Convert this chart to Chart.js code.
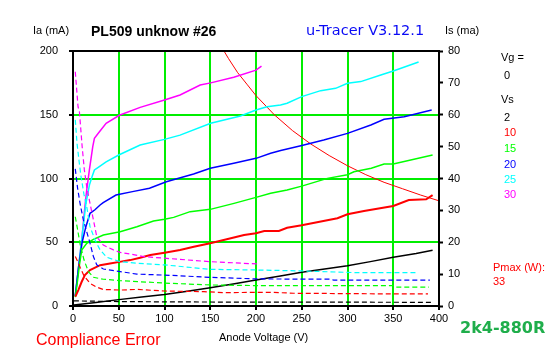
<!DOCTYPE html>
<html>
<head>
<meta charset="utf-8">
<script src="https://cdn.jsdelivr.net/npm/chart.js@4"></script>
<style>
html,body{margin:0;padding:0;background:#fff;}
canvas{display:block;}
</style>
</head>
<body>
<canvas id="c" width="547" height="357"></canvas>
<script>
// ---- tick labels ----
const xTicks = [0, 50, 100, 150, 200, 250, 300, 350, 400];
const iaTicks = [0, 50, 100, 150, 200];
const isTicks = [0, 10, 20, 30, 40, 50, 60, 70, 80];
const screenVoltages = ['2', '10', '15', '20', '25', '30'];
const seriesColors = ['#000000', '#ff0000', '#00ff00', '#0000ff', '#00ffff', '#ff00ff'];

// ---- Vs = 2 ----
const va_vs2 = [1, 25, 50, 75, 100, 125, 150, 175, 200, 225, 250, 275, 300, 325, 350, 375, 393];
const ia_vs2 = [0.8, 2.8, 5.0, 7.0, 9.0, 11.6, 14.3, 17.3, 20.4, 23.3, 26.4, 29.0, 31.6, 34.8, 38.2, 41.2, 43.7];
const vsc_vs2 = [1, 50, 100, 200, 300, 392];
const is_vs2 = [1.6, 1.4, 1.3, 1.2, 1.2, 1.15];

// ---- Vs = 10 ----
const va_vs10 = [2.6, 5.8, 9.5, 13, 18.6, 29.6, 40.5, 50.8, 62.5, 73.4, 84.5, 100, 117, 132, 150, 168, 187, 200, 209, 225, 234, 250, 289, 300, 318, 350, 367, 386, 393];
const ia_vs10 = [7.3, 12.5, 19, 24.3, 28.2, 32, 33.3, 34.6, 36, 37.9, 40, 41.8, 43.9, 46.5, 49.2, 52.3, 55.7, 57, 58.8, 58.8, 61.4, 63.3, 68.8, 71.9, 74.5, 78.4, 83.1, 83.7, 87];
const vsc_vs10 = [2.5, 5, 8, 12, 18.6, 26, 33, 51.5, 70, 100, 143, 165, 216, 241, 344, 388];
const is_vs10 = [15.5, 14, 12, 9.5, 7.1, 5.9, 5.2, 5.0, 5.2, 4.7, 4.5, 4.2, 4.3, 4.0, 3.8, 3.8];

// ---- Vs = 15 ----
const va_vs15 = [2.5, 5, 7, 9.5, 15, 22.3, 33.2, 51.5, 69.8, 88, 100, 110, 128, 150, 176, 200, 216, 234, 250, 278, 300, 307, 326, 340, 350, 393];
const ia_vs15 = [7, 20, 32, 43.9, 49.2, 52.3, 55.7, 58.3, 62.2, 66.7, 68, 69.5, 74, 75.8, 80.5, 85.2, 88.5, 91, 94, 100.1, 103, 105.3, 108, 111.4, 111.4, 118.4];
const vsc_vs15 = [2.5, 5, 8, 12, 16.8, 22.3, 33.2, 51.5, 100, 150, 200, 350, 352, 389];
const is_vs15 = [28, 24, 19, 14.5, 10.8, 9, 8.4, 7.95, 7.2, 6.6, 6.4, 6.4, 5.9, 5.9];

// ---- Vs = 20 ----
const va_vs20 = [2.5, 6, 10, 14, 18.6, 24, 29.6, 33, 47, 65, 83.6, 102, 131.8, 150, 175.7, 200, 216, 227, 249, 274, 300, 325.5, 340, 362, 392];
const ia_vs20 = [8, 30, 50, 62, 72.7, 75.5, 79.2, 81, 87, 89.7, 92.3, 97.5, 103.5, 108, 112, 115.8, 119.8, 122, 125.7, 130.2, 135.4, 142, 146.4, 148.5, 153.7];
const vsc_vs20 = [2.5, 5, 7.7, 11.3, 18.6, 22.3, 26, 33.2, 51.5, 69.8, 100, 150, 200, 282, 285, 390];
const is_vs20 = [43, 37, 32.2, 27, 19.7, 15.5, 12.9, 11.6, 10.8, 10, 9.7, 9, 8.5, 8.4, 8.1, 8.1];

// ---- Vs = 25 ----
const va_vs25 = [2.5, 6, 10, 14, 18, 20.8, 23.4, 26, 36.2, 50, 73.4, 100, 117, 150.5, 183, 200, 212, 226.8, 234, 250, 270.7, 287, 300, 314.5, 336.4, 350, 377.7];
const ia_vs25 = [8, 30, 55, 80, 95, 101.4, 106.7, 108, 113, 118.4, 126.3, 130.7, 134, 143.3, 149, 153.7, 156.3, 157.6, 159, 164.2, 168.9, 170.7, 174.7, 176, 181.2, 184.3, 191.4];
const vsc_vs25 = [2.5, 4.4, 6.9, 8.8, 12, 15, 18.6, 24.1, 29.6, 36.9, 51.5, 69.8, 100, 150, 200, 250, 305, 376];
const is_vs25 = [58.4, 51, 44.8, 40.6, 35, 31.2, 24.9, 20.7, 17.6, 15.3, 13.9, 13.4, 12.9, 11.5, 11.3, 11, 10.5, 10.5];

// ---- Vs = 30 ----
const va_vs30 = [2.5, 6, 10, 13, 15, 17.9, 21.6, 23.4, 28.9, 36.2, 50.7, 73.4, 100, 117, 139, 150.5, 175.7, 200, 206];
const ia_vs30 = [8, 30, 55, 78, 91, 106.7, 125, 131.5, 136.7, 143.3, 149.6, 155.8, 161.6, 165.5, 173.3, 175, 179.4, 185, 188.2];
const vsc_vs30 = [2.5, 5.5, 7, 10, 12.4, 15, 18.6, 22.3, 26, 33.2, 44.2, 51.5, 62.5, 77, 100, 150, 201];
const is_vs30 = [73.5, 62.5, 61, 50, 42.7, 37.4, 32.2, 27, 21.7, 19.1, 17.6, 16.8, 16.3, 15.5, 15, 13.9, 13.2];

// ---- Pmax = 33 W hyperbola ----
const va_pmax = [165, 170, 180, 190, 200, 220, 240, 260, 280, 300, 320, 340, 360, 380, 400];
const ia_pmax = [200, 194, 183, 174, 165, 150, 137.5, 127, 118, 110, 103, 97, 92, 87, 82.5];

const anodeSets = [[va_vs2, ia_vs2], [va_vs10, ia_vs10], [va_vs15, ia_vs15], [va_vs20, ia_vs20], [va_vs25, ia_vs25], [va_vs30, ia_vs30]];
const screenSets = [[vsc_vs2, is_vs2], [vsc_vs10, is_vs10], [vsc_vs15, is_vs15], [vsc_vs20, is_vs20], [vsc_vs25, is_vs25], [vsc_vs30, is_vs30]];

function pts(xs, ys) { return xs.map((x, i) => ({x: x, y: ys[i]})); }

const datasets = [];
screenSets.forEach((s, i) => {
  datasets.push({label: 'Is Vs=' + screenVoltages[i], data: pts(s[0], s[1]), yAxisID: 'y2',
    borderColor: seriesColors[i], borderWidth: 1.2, borderDash: [5, 3], pointRadius: 0, tension: 0, fill: false});
});
anodeSets.forEach((s, i) => {
  datasets.push({label: 'Ia Vs=' + screenVoltages[i], data: pts(s[0], s[1]), yAxisID: 'y',
    borderColor: seriesColors[i], borderWidth: i === 1 ? 2 : 1.5, pointRadius: 0, tension: 0, fill: false});
});
datasets.push({label: 'Pmax', data: pts(va_pmax, ia_pmax), yAxisID: 'y',
  borderColor: '#ff0000', borderWidth: 1, pointRadius: 0, tension: 0, fill: false});

const FONT = '"Liberation Sans", Arial, sans-serif';

const textPlugin = {
  id: 'texts',
  afterDraw(chart) {
    const ctx = chart.ctx;
    const a = chart.chartArea;
    ctx.save();
    // frame
    ctx.strokeStyle = '#000';
    ctx.lineWidth = 2;
    ctx.strokeRect(a.left, a.top, a.right - a.left, a.bottom - a.top);
    ctx.textBaseline = 'middle';
    ctx.textAlign = 'left';
    const t = (s, x, y, font, color) => { ctx.font = font; ctx.fillStyle = color; ctx.fillText(s, x, y); };
    t('Ia (mA)', 33, 31, '11px ' + FONT, '#000');
    t('PL509 unknow #26', 91, 32, 'bold 14px ' + FONT, '#000');
    t('u-Tracer V3.12.1', 306, 31, '14.5px "DejaVu Sans", sans-serif', '#0a0af5');
    t('Is (ma)', 445, 31, '11px ' + FONT, '#000');
    t('Vg =', 501, 58, '11px ' + FONT, '#000');
    t('0', 504, 76, '11px ' + FONT, '#000');
    t('Vs', 501, 100, '11px ' + FONT, '#000');
    const ys = [117.5, 133, 149, 164.5, 180, 195];
    screenVoltages.forEach((v, i) => t(v, 504, ys[i], '11px ' + FONT, seriesColors[i]));
    t('Pmax (W):', 493, 267.5, '11px ' + FONT, '#ff0000');
    t('33', 493, 282, '11px ' + FONT, '#ff0000');
    t('Compliance Error', 36, 341, '16px ' + FONT, '#ff0000');
    t('Anode Voltage (V)', 219, 338, '11px ' + FONT, '#000');
    t('2k4-880R', 460, 329, 'bold 16px "DejaVu Sans", sans-serif', '#1fae4b');
    ctx.restore();
  }
};

const gridColor = (ends) => (c) => (c.tick && ends.includes(c.tick.value)) ? 'rgba(0,0,0,0)' : '#00ee00';

new Chart(document.getElementById('c'), {
  type: 'line',
  data: {datasets: datasets},
  options: {
    responsive: false,
    devicePixelRatio: 1,
    animation: false,
    events: [],
    layout: {padding: {top: 51, left: 0, right: 0, bottom: 0}},
    plugins: {legend: {display: false}, tooltip: {enabled: false}, title: {display: false}},
    scales: {
      x: {
        type: 'linear', min: xTicks[0], max: xTicks[xTicks.length - 1],
        afterFit(s) { s.height = 51; },
        afterBuildTicks(s) { s.ticks = xTicks.map(v => ({value: v})); },
        grid: {color: gridColor([0, 400]), lineWidth: 2, tickColor: '#000', tickLength: 4, tickWidth: 2},
        border: {display: true, color: '#000', width: 2},
        ticks: {font: {family: FONT, size: 11}, color: '#000', padding: 2, maxRotation: 0, autoSkip: false}
      },
      y: {
        type: 'linear', position: 'left', min: iaTicks[0], max: iaTicks[iaTicks.length - 1],
        afterFit(s) { s.width = 73; },
        afterBuildTicks(s) { s.ticks = iaTicks.map(v => ({value: v})); },
        grid: {color: gridColor([0, 200]), lineWidth: 2, tickColor: '#000', tickLength: 4, tickWidth: 2},
        border: {display: true, color: '#000', width: 2},
        ticks: {font: {family: FONT, size: 11}, color: '#000', padding: 11, autoSkip: false}
      },
      y2: {
        type: 'linear', position: 'right', min: isTicks[0], max: isTicks[isTicks.length - 1],
        afterFit(s) { s.width = 108; },
        afterBuildTicks(s) { s.ticks = isTicks.map(v => ({value: v})); },
        grid: {drawOnChartArea: false, tickColor: '#000', tickLength: 4, tickWidth: 2},
        border: {display: true, color: '#000', width: 2},
        ticks: {font: {family: FONT, size: 11}, color: '#000', padding: 5, autoSkip: false}
      }
    }
  },
  plugins: [textPlugin]
});
</script>
</body>
</html>
